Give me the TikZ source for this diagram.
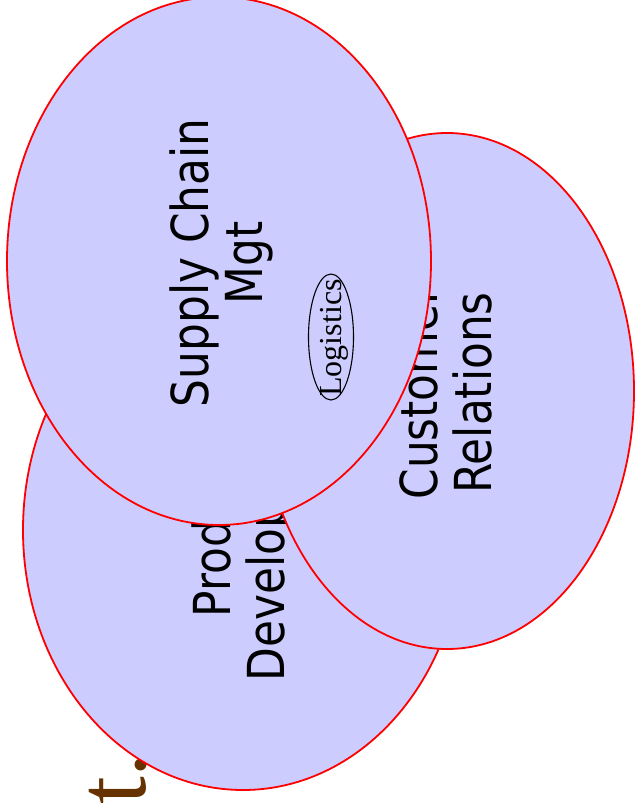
\documentclass[tikz,border=0pt]{standalone}
\usepackage{fontspec}
\usetikzlibrary{shapes.geometric}
\newfontfamily\lblfont[FakeStretch=0.86]{DejaVu Sans}
\newfontfamily\seriffont{Liberation Serif}
\definecolor{bubblefill}{RGB}{204,204,255}
\definecolor{titlebrown}{RGB}{102,51,0}
\tikzset{
  bubble/.style={ellipse, draw=red, line width=1.8pt, fill=bubblefill, rotate=90, inner sep=0pt},
  bubbletext/.style={rotate=90, align=center, font=\lblfont\fontsize{51}{54}\selectfont, text=black},
  smallbubble/.style={ellipse, draw=black, line width=1.1pt, fill=bubblefill, rotate=90, inner sep=0pt},
  smalltext/.style={rotate=90, font=\seriffont\fontsize{32}{34}\selectfont, text=black},
  titletext/.style={rotate=90, anchor=base east, inner sep=0pt, font=\seriffont\fontsize{100}{100}\selectfont, text=titlebrown}
}
\begin{document}
\begin{tikzpicture}[x=1pt, y=-1pt]
\useasboundingbox (0,0) rectangle (635,806);
\node[titletext] (title) at (145,752) {t.};
% Product Development
\node[bubble, minimum width=520pt, minimum height=440pt] (prod) at (243,530) {};
\node[bubbletext] (prodtext) at (243,534) {Product\\Development};
% Customer Relations
\node[bubble, minimum width=516pt, minimum height=374pt] (cust) at (447,391) {};
\node[bubbletext] (custtext) at (446,393) {Customer\\Relations};
% Supply Chain Mgt
\node[bubble, minimum width=528pt, minimum height=424pt] (supply) at (219,261) {};
\node[bubbletext] (supplytext) at (221,263) {Supply Chain\\Mgt};
% Logistics
\node[smallbubble, minimum width=126pt, minimum height=45pt] (logi) at (331,337) {};
\node[smalltext] (logitext) at (334,338) {Logistics};
\end{tikzpicture}
\end{document}
